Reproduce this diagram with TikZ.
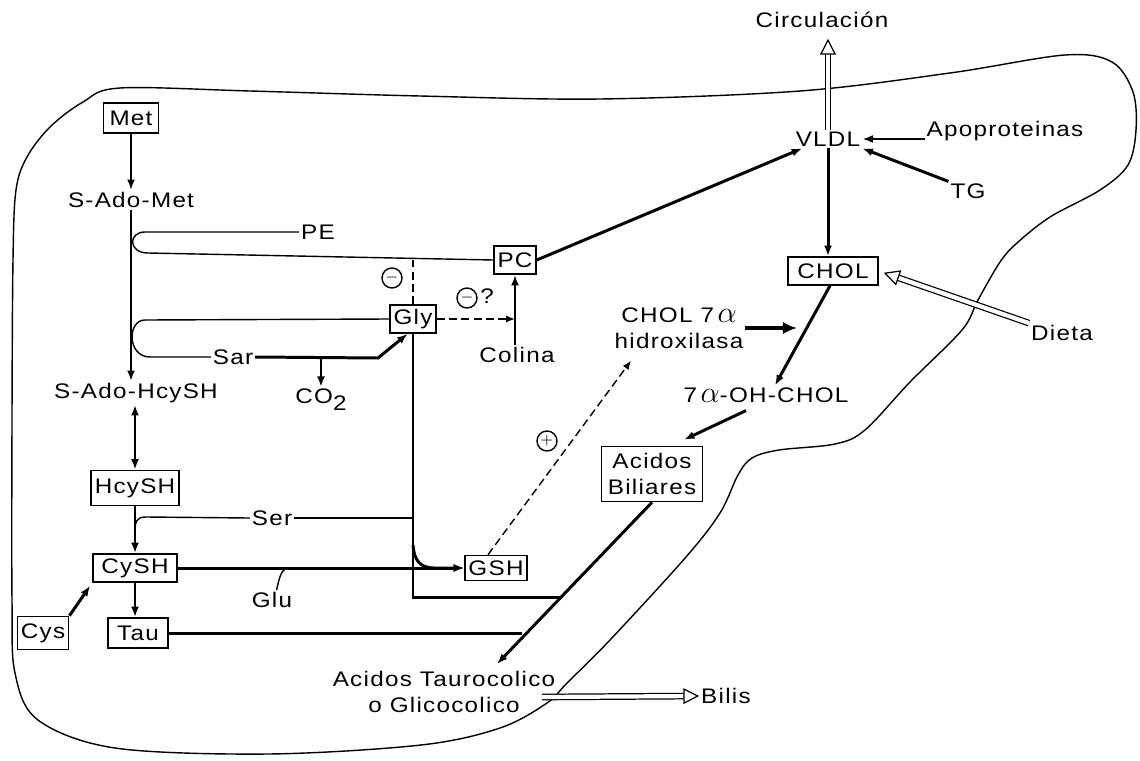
\documentclass[tikz,border=0pt]{standalone}
\usepackage{fontspec}
\setmainfont{Liberation Sans}[FakeStretch=1.15, LetterSpace=6]
\usetikzlibrary{arrows.meta, positioning, calc}

\newcommand{\alf}{{\fontsize{16}{16}\selectfont$\alpha$}}

\begin{document}
\begin{tikzpicture}[x=0.02cm, y=-0.02cm,
  font=\fontsize{12}{15}\selectfont,
  box/.style={draw, line width=0.9pt, inner xsep=2pt, inner ysep=1pt, minimum height=0.56cm},
  lbl/.style={inner sep=1pt},
  sign/.style={circle, draw, line width=0.8pt, minimum size=0.4cm, inner sep=0pt, font=\small},
  ln/.style={line width=0.8pt},
  thk/.style={line width=1.7pt},
  arr/.style={-{Latex[length=6pt, width=4.5pt]}, line width=1.7pt},
  arrboth/.style={{Latex[length=6pt, width=4.5pt]}-{Latex[length=6pt, width=4.5pt]}, line width=1.7pt},
  fat/.style={-{Latex[length=8pt, width=7pt]}, line width=2.8pt},
  dsh/.style={line width=0.8pt, dash pattern=on 4.5pt off 2.5pt},
  dsharr/.style={dsh, -{Latex[length=5pt, width=4pt]}},
  hollow/.style={double, double distance=2.4pt, line width=0.7pt, -{Triangle[open, length=9pt, width=9pt, line width=0.7pt]}}
]
\useasboundingbox (0,0) rectangle (1140,761);

\draw[ln] plot[smooth cycle, tension=0.55] coordinates {
  (12,600) (12,420) (13,260) (16,190) (27,157) (50,127) (83,102) (120,88)
  (250,91) (420,96) (600,99) (800,91) (950,73) (1065,55) (1112,62)
  (1133,92) (1136,130) (1128,165) (1100,190) (1050,217) (1017,243)
  (1000,262) (978,300) (962,330) (910,382) (865,430) (835,444) (779,450)
  (752,458) (738,475) (720,513) (686,557) (610,640) (567,683) (547,703)
  (500,728) (421,745) (268,754) (115,748) (38,720) (15,673)};

\node[box, minimum width=1.1cm, minimum height=0.6cm] (met) at (131,118) {Met};
\node[lbl] (sadomet) at (131,200) {S-Ado-Met};
\node[lbl] (pe) at (318,232) {PE};
\node[box] (pc) at (515,260) {PC};
\node[box] (gly) at (413,319) {Gly};
\node[sign] (inh1) at (392,278) {$-$};
\node[sign] (inh2) at (467,298) {$-$};
\node[lbl] (qm) at (487,296) {?};
\node[lbl] (colina) at (517,355) {Colina};
\node[lbl] (sar) at (233,357) {Sar};
\node[lbl] (co2) at (321,400) {CO\raisebox{-4pt}{2}};
\node[lbl] (sadohcy) at (136,393) {S-Ado-HcySH};
\node[box, minimum height=0.7cm] (hcysh) at (135,488) {HcySH};
\node[lbl] (ser) at (272,518) {Ser};
\node[box, minimum width=1.68cm] (cysh) at (135,568) {CySH};
\node[lbl] (glu) at (272,600) {Glu};
\node[box, minimum height=0.5cm] (gsh) at (496,568) {GSH};
\node[box, minimum height=0.66cm] (cys) at (43,633) {Cys};
\node[box, minimum width=1.2cm, minimum height=0.6cm] (tau) at (138,633) {Tau};
\node[lbl, align=center] (acid) at (444,692) {Acidos Taurocolico\\o Glicocolico};
\node[lbl] (bilis) at (726,696) {Bilis};
\node[box, align=center, minimum width=2.02cm, minimum height=1.1cm] (acidbil) at (652,474) {Acidos\\Biliares};
\node[lbl] (oh7) at (766,395) {7\,\alf-OH-CHOL};
\node[lbl, align=center] (hydrox) at (679,328) {CHOL 7\,\alf\\hidroxilasa};
\node[box, minimum width=1.8cm] (chol) at (833,271) {CHOL};
\node[lbl] (vldl) at (828,139) {VLDL};
\node[lbl] (circ) at (822,20) {Circulación};
\node[lbl] (apo) at (1005,131) {Apoproteinas};
\node[lbl] (tg) at (968,191) {TG};
\node[lbl] (dieta) at (1062,333) {Dieta};
\node[sign] (act) at (547,441) {$+$};

\coordinate (sarco) at (321,358);
\coordinate (jgly) at (560,597);
\coordinate (glyb) at (413,545);
\coordinate (jtau) at (522,637);
\coordinate (acidtip) at (497,664);
\coordinate (bilstart) at (542,697);
\coordinate (cholrx) at (797,328);

\draw[arr] (met.south) -- (met.south |- sadomet.north);
\draw[arr] (sadomet.south) -- (sadomet.south |- sadohcy.north);
\draw[ln] (pe.west) -- (145,232) .. controls (128,232) and (128,253) .. (148,253) -- (pc.west);
\draw[ln] (gly.west) -- (145,320) .. controls (127,320) and (127,357) .. (150,357) -- (sar.west);
\draw[arr] (sar.east) -- (378,358) -- (gly.-110);
\draw[arr] (sarco) -- (co2.north);
\draw[dsh] (gly.north) -- (gly.north |- pc.west);
\draw[dsharr] (gly.east) -- (gly.east -| pc.south);
\draw[arr] (colina.north -| pc.south) -- (pc.south);
\draw[arr] (pc.east) -- (vldl.200);
\draw[arrboth] (sadohcy.south -| hcysh.north) -- (hcysh.north);
\draw[arr] (hcysh.south) -- (hcysh.south |- cysh.north);
\draw[ln] (ser.west) -- (146,517) .. controls (136,517) and (135,522) .. (135,533);
\draw[ln] (ser.east) -- (ser.east -| gly.south);
\draw[thk] (gly.south) -- (gly.south |- jgly) -- (jgly);
\draw[arr] (cysh.east) -- (gsh.west);
\draw[arr] (glyb) .. controls (414,560) and (420,568) .. (434,568) -- (gsh.west);
\draw[ln] (glu.65) .. controls (279,579) and (281,569) .. (288,568);
\draw[arr] (cysh.south) -- (cysh.south |- tau.north);
\draw[arr, shorten >=2pt] (cys.north east) -- (cysh.south west);
\draw[thk] (tau.east) -- (tau.east -| jtau);
\draw[arr] (acidbil.south) -- (acidtip);
\draw[hollow] (bilstart) -- (bilis.west);
\draw[hollow, shorten >=5pt] (vldl.north) -- (vldl.north |- circ.south);
\draw[arr] (apo.west |- vldl.east) -- (vldl.east);
\draw[arr] (tg.north west) -- (vldl.south east);
\draw[arr] (vldl.south) -- (vldl.south |- chol.north);
\draw[hollow, shorten >=3pt] (dieta.north west) -- (chol.east);
\draw[fat] (hydrox.east |- cholrx) -- (cholrx);
\draw[arr] ($(chol.south)+(-3,0)$) -- ($(oh7.north)+(9,0)$);
\draw[arr] ($(oh7.south)+(-20,6)$) -- ($(acidbil.north)+(32,-6)$);
\draw[dsharr] ($(gsh.north)+(-8,0)$) -- ($(hydrox.south)+(-48,10)$);
\end{tikzpicture}
\end{document}
